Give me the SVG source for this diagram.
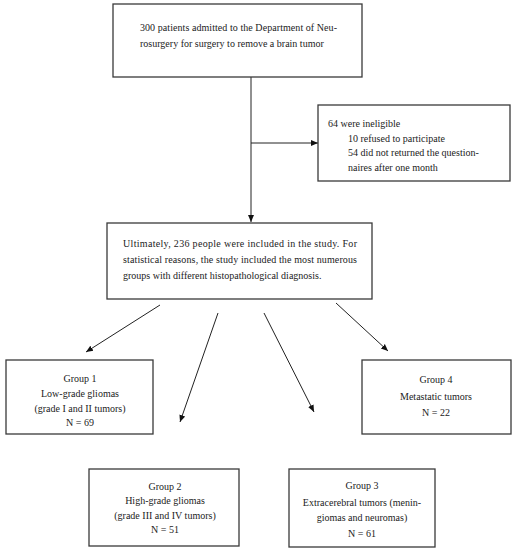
<svg xmlns="http://www.w3.org/2000/svg" width="516" height="550" viewBox="0 0 516 550">
<defs>
<style>
.box{fill:#fff;stroke:#3a3a3a;stroke-width:1.3}
.t{font-family:"Liberation Serif","Times New Roman",serif;font-size:10px;fill:#222}
.c{text-anchor:middle}
.ln{stroke:#222;stroke-width:1;fill:none;marker-end:url(#ah)}
.ln0{stroke:#222;stroke-width:1;fill:none}
</style>
<marker id="ah" markerUnits="userSpaceOnUse" markerWidth="8" markerHeight="8" viewBox="0 0 8 8" refX="7" refY="4" orient="auto">
<path d="M0,1 L7,4 L0,7 Z" fill="#111"/>
</marker>
</defs>
<rect width="516" height="550" fill="#fff"/>
<g id="connectors">
<line class="ln0" x1="251" y1="77" x2="251" y2="143"/>
<line class="ln" x1="251" y1="143" x2="251" y2="222"/>
<line class="ln" x1="251" y1="143" x2="318" y2="143"/>
<line class="ln" x1="160" y1="305" x2="86" y2="352"/>
<line class="ln" x1="218" y1="313" x2="180" y2="422"/>
<line class="ln" x1="264" y1="313" x2="314" y2="412"/>
<line class="ln" x1="336" y1="303" x2="388" y2="351"/>
</g>
<g id="start">
<rect class="box" x="113" y="4" width="249" height="73"/>
<text class="t" x="140" y="30.5" textLength="197" lengthAdjust="spacing">300 patients admitted to the Department of Neu-</text>
<text class="t" x="140" y="46.5">rosurgery for surgery to remove a brain tumor</text>
</g>
<g id="excluded">
<rect class="box" x="318" y="105" width="192" height="76"/>
<text class="t" x="328" y="126.5">64 were ineligible</text>
<text class="t" x="348" y="141.5">10 refused to participate</text>
<text class="t" x="348" y="156">54 did not returned the question-</text>
<text class="t" x="348" y="170.5">naires after one month</text>
</g>
<g id="included">
<rect class="box" x="107" y="223" width="265" height="76"/>
<text class="t" x="123" y="246.5" textLength="234" lengthAdjust="spacing">Ultimately, 236 people were included in the study. For</text>
<text class="t" x="123" y="263" textLength="234" lengthAdjust="spacing">statistical reasons, the study included the most numerous</text>
<text class="t" x="123" y="279">groups with different histopathological diagnosis.</text>
</g>
<g id="group1">
<rect class="box" x="6" y="360" width="147" height="74"/>
<text class="t c" x="80" y="381.5">Group 1</text>
<text class="t c" x="80" y="396.5">Low-grade gliomas</text>
<text class="t c" x="80" y="411.5">(grade I and II tumors)</text>
<text class="t c" x="80" y="425.5">N = 69</text>
</g>
<g id="group4">
<rect class="box" x="362" y="360" width="149" height="74"/>
<text class="t c" x="436" y="382.5">Group 4</text>
<text class="t c" x="436" y="399.5">Metastatic tumors</text>
<text class="t c" x="436" y="415.5">N = 22</text>
</g>
<g id="group2">
<rect class="box" x="89" y="469" width="150" height="77"/>
<text class="t c" x="165" y="489.5">Group 2</text>
<text class="t c" x="165" y="504">High-grade gliomas</text>
<text class="t c" x="165" y="518.5">(grade III and IV tumors)</text>
<text class="t c" x="165" y="532.5">N = 51</text>
</g>
<g id="group3">
<rect class="box" x="289" y="469" width="146" height="78"/>
<text class="t c" x="362" y="489">Group 3</text>
<text class="t c" x="362" y="505.5">Extracerebral tumors (menin-</text>
<text class="t c" x="362" y="521">giomas and neuromas)</text>
<text class="t c" x="362" y="536.5">N = 61</text>
</g>
</svg>
